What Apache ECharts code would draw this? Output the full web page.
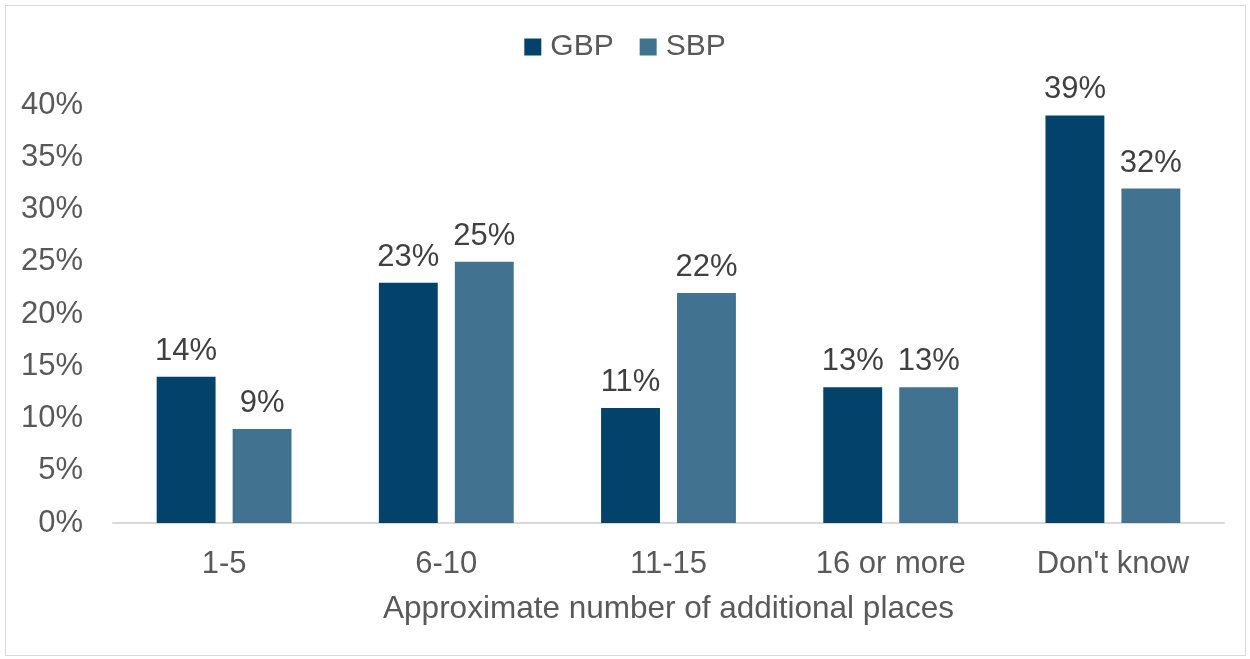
<!DOCTYPE html>
<html>
<head>
<meta charset="utf-8">
<script src="https://cdn.jsdelivr.net/npm/echarts@6/dist/echarts.min.js"></script>
<style>
html,body{margin:0;padding:0;background:#fff;}
#wrap{position:absolute;left:5px;top:5px;width:1239px;height:649px;border:1px solid #d9d9d9;}
#c{position:absolute;left:0;top:0;width:1250px;height:659px;}
</style>
</head>
<body>
<div id="wrap"></div>
<div id="c"></div>
<script>
const categories = ["1-5", "6-10", "11-15", "16 or more", "Don't know"];
const gbpValues = [14, 23, 11, 13, 39];
const sbpValues = [9, 25, 22, 13, 32];
const seriesNames = ["GBP", "SBP"];

const chart = echarts.init(document.getElementById('c'));
const font = "'Liberation Sans', Arial, sans-serif";
const labelCfg = {
  show: true, position: 'top', distance: 10,
  formatter: p => p.value + '%',
  color: '#404040', fontSize: 31, fontFamily: font
};
chart.setOption({
  animation: false,
  legend: {
    top: 27, left: 'center',
    itemWidth: 17, itemHeight: 17, itemGap: 26,
    icon: 'rect',
    textStyle: { color: '#595959', fontSize: 30, fontFamily: font, padding: [0, 0, 0, 4] },
    data: seriesNames
  },
  grid: { left: 113, right: 26, top: 105, bottom: 136, containLabel: false },
  xAxis: {
    type: 'category', data: categories,
    axisLine: { lineStyle: { color: '#d9d9d9', width: 2 } },
    axisTick: { show: false },
    axisLabel: { color: '#595959', fontSize: 31, fontFamily: font, margin: 26 },
    name: 'Approximate number of additional places',
    nameLocation: 'middle', nameGap: 70,
    nameTextStyle: { color: '#595959', fontSize: 31.5, fontFamily: font }
  },
  yAxis: {
    type: 'value', min: 0, max: 40, interval: 5,
    axisLine: { show: false }, axisTick: { show: false },
    splitLine: { show: false },
    axisLabel: { color: '#595959', fontSize: 31, fontFamily: font, margin: 30, formatter: '{value}%' }
  },
  series: [
    { name: seriesNames[0], type: 'bar', data: gbpValues, barWidth: '26.5%', barGap: '29%',
      itemStyle: { color: '#03426A' }, label: labelCfg },
    { name: seriesNames[1], type: 'bar', data: sbpValues, barWidth: '26.5%',
      itemStyle: { color: '#41728F' }, label: labelCfg }
  ]
});
</script>
</body>
</html>
